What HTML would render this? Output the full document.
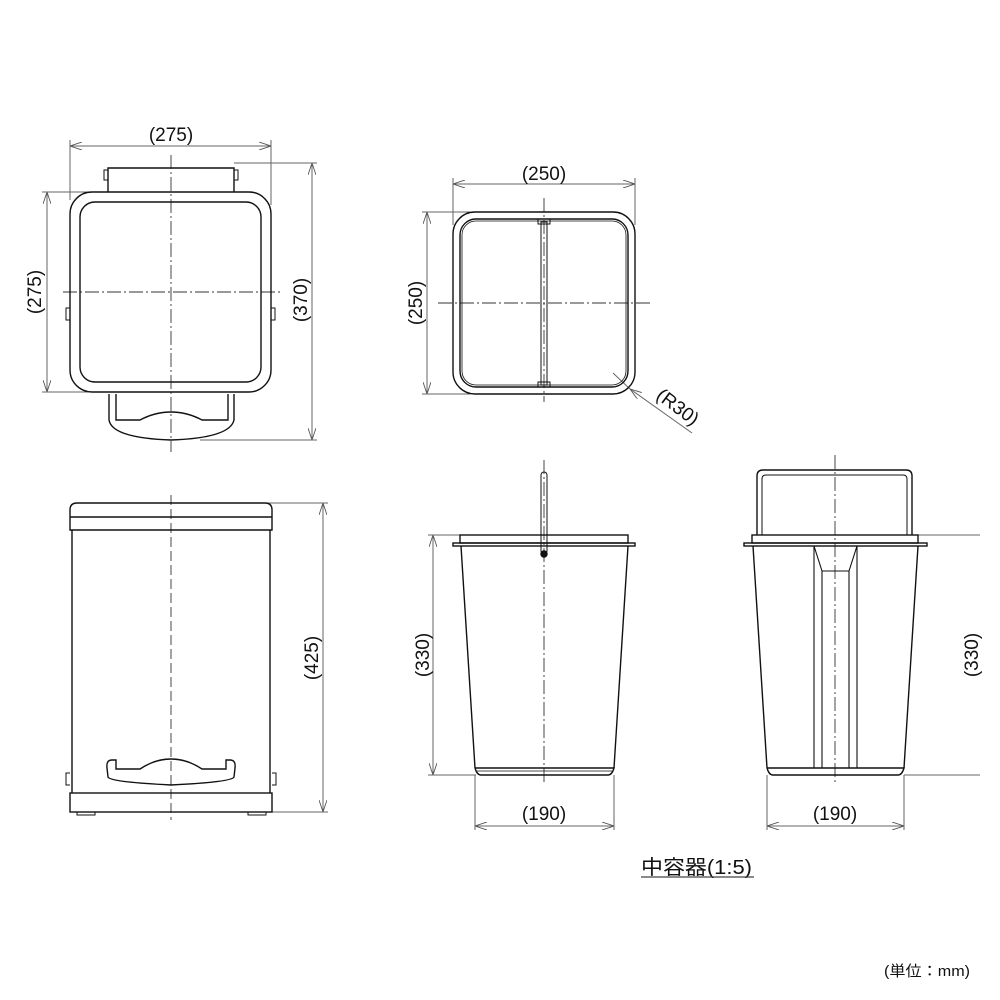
<!DOCTYPE html>
<html><head><meta charset="utf-8"><style>
html,body{margin:0;padding:0;background:#fff}
svg{display:block}
text{font-family:"Liberation Sans","Noto Sans CJK JP",sans-serif;fill:#111}
</style></head><body>
<svg width="1000" height="1000" viewBox="0 0 1000 1000" xmlns="http://www.w3.org/2000/svg">
<defs>
<marker id="a" viewBox="0 0 12 8" refX="12" refY="4" markerWidth="12" markerHeight="8" orient="auto-start-reverse" markerUnits="userSpaceOnUse"><path d="M0,0 L12,4 L0,8" fill="none" stroke="#555" stroke-width="0.9"/></marker>
</defs>
<g fill="none" stroke="#666" stroke-width="1">
<line x1="70" y1="146" x2="271" y2="146" marker-start="url(#a)" marker-end="url(#a)"/>
<line x1="70" y1="140" x2="70" y2="200"/><line x1="271" y1="140" x2="271" y2="205"/>
<line x1="47" y1="192" x2="47" y2="392" marker-start="url(#a)" marker-end="url(#a)"/>
<line x1="42" y1="192" x2="92" y2="192"/><line x1="42" y1="392" x2="92" y2="392"/>
<line x1="312" y1="163" x2="312" y2="440" marker-start="url(#a)" marker-end="url(#a)"/>
<line x1="234" y1="163" x2="317" y2="163"/><line x1="200" y1="440" x2="317" y2="440"/>
<line x1="453" y1="184" x2="635" y2="184" marker-start="url(#a)" marker-end="url(#a)"/>
<line x1="453" y1="178" x2="453" y2="225"/><line x1="635" y1="178" x2="635" y2="225"/>
<line x1="427" y1="212" x2="427" y2="394" marker-start="url(#a)" marker-end="url(#a)"/>
<line x1="422" y1="212" x2="470" y2="212"/><line x1="422" y1="394" x2="470" y2="394"/>
<line x1="692" y1="433" x2="630" y2="389" marker-end="url(#a)"/>
<line x1="630" y1="389" x2="613" y2="373"/>
<line x1="323" y1="503" x2="323" y2="812" marker-start="url(#a)" marker-end="url(#a)"/>
<line x1="262" y1="503" x2="328" y2="503"/><line x1="265" y1="812" x2="328" y2="812"/>
<line x1="433" y1="535" x2="433" y2="775" marker-start="url(#a)" marker-end="url(#a)"/>
<line x1="428" y1="535" x2="462" y2="535"/><line x1="428" y1="775" x2="476" y2="775"/>
<line x1="475" y1="826" x2="614" y2="826" marker-start="url(#a)" marker-end="url(#a)"/>
<line x1="475" y1="775" x2="475" y2="830"/><line x1="614" y1="775" x2="614" y2="830"/>
<line x1="918" y1="535" x2="980" y2="535"/><line x1="904" y1="775" x2="980" y2="775"/>
<line x1="767" y1="826" x2="904" y2="826" marker-start="url(#a)" marker-end="url(#a)"/>
<line x1="767" y1="775" x2="767" y2="830"/><line x1="904" y1="775" x2="904" y2="830"/>
</g>
<g fill="none" stroke="#333" stroke-width="0.9" stroke-dasharray="14,3,2,3">
<line x1="171" y1="155" x2="171" y2="452"/><line x1="63" y1="292" x2="280" y2="292"/>
<line x1="544" y1="198" x2="544" y2="402"/><line x1="438" y1="303" x2="650" y2="303"/>
<line x1="171" y1="495" x2="171" y2="820" stroke-dasharray="10,4"/>
<line x1="544" y1="460" x2="544" y2="785"/>
<line x1="835" y1="455" x2="835" y2="785"/>
</g>
<g fill="none" stroke="#111" stroke-width="1.4">
<path d="M108,192 V168 H234 V192"/>
<path d="M108,170 h-4 v10 h4 M234,170 h4 v10 h-4" stroke-width="1"/>
<rect x="70" y="192" width="201" height="200" rx="22"/>
<rect x="80" y="202" width="181" height="180" rx="15"/>
<path d="M70,308 h-4 v12 h4 M271,308 h4 v12 h-4" stroke-width="1"/>
<path d="M109,394 V420 Q112,438 171,440 Q230,438 234,420 V394"/>
<path d="M116,394 V420 H140 Q155,412 171,412 Q187,412 202,420 H228 V394"/>
<rect x="453" y="212" width="182" height="182" rx="22"/>
<rect x="460" y="219" width="168" height="168" rx="16"/>
<rect x="462" y="221" width="164" height="164" rx="14" stroke-width="0.8"/>
<rect x="541" y="222" width="6" height="163" stroke-width="1"/>
<rect x="538" y="219" width="12" height="5" stroke-width="1"/><rect x="538" y="382" width="12" height="5" stroke-width="1"/>
<path d="M70,530 V510 Q70,503 77,503 H265 Q272,503 272,510 V530 Z"/>
<line x1="70" y1="517" x2="272" y2="517"/>
<path d="M72,530 V793 M270,530 V793"/>
<rect x="70" y="793" width="202" height="19"/>
<path d="M77,812 v3 h18 v-3 M248,812 v3 h18 v-3" stroke-width="1"/>
<path d="M70,773 h-4 v12 h4 M272,773 h4 v12 h-4" stroke-width="1"/>
<path d="M112,760 Q106,760 107,768 L108,777 Q110,782 171,785 Q232,782 234,777 L235,768 Q236,760 230,760 H226 V769 H202 Q187,759 171,759 Q155,759 140,769 H116 V760 Z"/>
<rect x="460" y="535" width="168" height="8"/>
<rect x="453" y="543" width="182" height="3"/>
<path d="M461,546 L475,768 M628,546 L614,768"/>
<path d="M475,768 H614 Q612,775 608,775 H481 Q477,775 475,768"/>
<line x1="477" y1="771" x2="612" y2="771" stroke-width="0.8"/>
<rect x="541" y="472" width="6" height="82" rx="3" stroke-width="1"/>
<circle cx="544" cy="554" r="3" fill="#111"/>
<path d="M757,535 V476 Q757,470 763,470 H906 Q912,470 912,476 V535"/>
<path d="M762,535 V479 Q762,475 766,475 H903 Q907,475 907,479 V535" stroke-width="1"/>
<rect x="752" y="535" width="166" height="8"/>
<rect x="744" y="543" width="183" height="3"/>
<path d="M753,546 L767,768 M918,546 L904,768"/>
<path d="M767,768 H904 Q902,775 898,775 H773 Q769,775 767,768"/>
<path d="M814,546 V768 M857,546 V768 M822,571 V768 M849,571 V768 M814,546 L822,571 H849 L857,546" stroke-width="1.1"/>
</g>
<g font-size="19" text-anchor="middle">
<text x="171" y="141">(275)</text>
<text x="544" y="180">(250)</text>
<text transform="translate(41,292) rotate(-90)">(275)</text>
<text transform="translate(307,300) rotate(-90)">(370)</text>
<text transform="translate(422,303) rotate(-90)">(250)</text>
<text transform="translate(674,412) rotate(37)">(R30)</text>
<text transform="translate(318,658) rotate(-90)">(425)</text>
<text transform="translate(429,655) rotate(-90)">(330)</text>
<text transform="translate(978,655) rotate(-90)">(330)</text>
<text x="544" y="820">(190)</text>
<text x="835" y="820">(190)</text>
</g>
<text x="641" y="874" font-size="20" textLength="111" lengthAdjust="spacingAndGlyphs">中容器(1:5)</text>
<line x1="641" y1="877" x2="754" y2="877" stroke="#444" stroke-width="1.2"/>
<text x="884" y="976" font-size="15" textLength="86" lengthAdjust="spacingAndGlyphs">(単位：mm)</text>
</svg>
</body></html>
